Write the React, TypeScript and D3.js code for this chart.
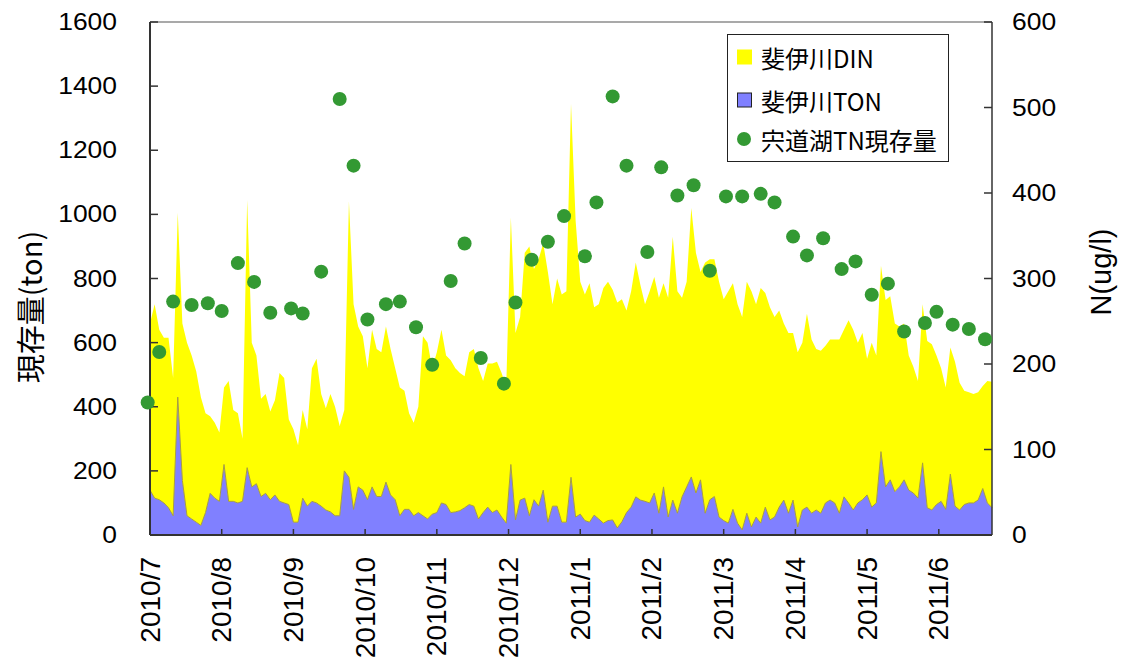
import React, { useEffect, useRef } from "react";
import * as d3 from "d3";

// daily record sampled every 2 days from 2010/7/1
const START = new Date(2010, 6, 1);
const END = new Date(2011, 5, 30);
const STEP_DAYS = 2;

// 斐伊川TON (ton)
const tonValues = [
  140, 115, 110, 100, 85, 60, 430, 170, 60, 50, 40, 30, 70, 130, 115, 105, 220, 105, 105, 100,
  105, 210, 150, 160, 120, 130, 110, 125, 105, 100, 95, 40, 40, 115, 90, 105, 100, 90, 78, 72,
  60, 60, 200, 180, 80, 150, 140, 110, 150, 120, 120, 165, 125, 110, 60, 80, 80, 60, 70, 60,
  50, 65, 70, 100, 95, 70, 72, 76, 85, 95, 90, 50, 70, 87, 70, 78, 56, 37, 220, 47,
  109, 115, 60, 110, 90, 140, 40, 90, 90, 40, 40, 180, 56, 65, 45, 40, 62, 50, 37, 45,
  47, 22, 41, 70, 87, 119, 109, 105, 100, 131, 68, 150, 56, 109, 68, 119, 150, 181, 131, 172,
  68, 110, 120, 56, 45, 37, 80, 37, 16, 68, 25, 56, 37, 87, 47, 56, 87, 109, 68, 109,
  25, 78, 87, 68, 78, 68, 100, 109, 100, 68, 119, 100, 78, 100, 110, 125, 87, 100, 260, 150,
  172, 135, 150, 172, 140, 131, 115, 225, 85, 78, 95, 105, 80, 190, 90, 78, 95, 100, 100, 109,
  145, 100, 85,
];

// 斐伊川DIN (ton)
const dinValues = [
  520, 605, 530, 515, 530, 430, 575, 490, 540, 510, 470, 400, 310, 240, 235, 215, 240, 375, 285, 280,
  195, 835, 450, 400, 305, 310, 275, 295, 400, 390, 265, 290, 240, 275, 240, 415, 450, 350, 317, 368,
  340, 280, 190, 860, 640, 500, 480, 410, 490, 460, 450, 485, 455, 410, 400, 370, 300, 290, 330, 560,
  550, 455, 500, 540, 465, 475, 448, 429, 410, 475, 490, 470, 410, 448, 465, 462, 449, 425, 770, 583,
  571, 765, 840, 720, 770, 770, 780, 630, 710, 710, 720, 1165, 924, 725, 705, 745, 648, 670, 733, 745,
  718, 703, 694, 630, 673, 731, 671, 615, 660, 674, 672, 635, 684, 821, 692, 621, 640, 839, 749, 648,
  782, 750, 740, 734, 690, 723, 705, 683, 664, 722, 735, 664, 733, 668, 663, 624, 613, 551, 562, 521,
  545, 522, 603, 542, 502, 507, 490, 501, 510, 542, 521, 570, 562, 500, 520, 425, 513, 460, 580, 583,
  573, 525, 500, 488, 420, 394, 365, 495, 520, 517, 465, 415, 380, 395, 450, 397, 355, 345, 340, 336,
  320, 380, 393,
];

// 宍道湖TN現存量 (ug/l)
const tnDates = [
  "2010-06-30", "2010-07-05", "2010-07-11", "2010-07-19", "2010-07-26", "2010-08-01", "2010-08-08",
  "2010-08-15", "2010-08-22", "2010-08-31", "2010-09-05", "2010-09-13", "2010-09-21", "2010-09-27",
  "2010-10-03", "2010-10-11", "2010-10-17", "2010-10-24", "2010-10-31", "2010-11-08", "2010-11-14",
  "2010-11-21", "2010-12-01", "2010-12-06", "2010-12-13", "2010-12-20", "2010-12-27", "2011-01-05",
  "2011-01-10", "2011-01-17", "2011-01-23", "2011-02-01", "2011-02-07", "2011-02-14", "2011-02-21",
  "2011-02-28", "2011-03-07", "2011-03-14", "2011-03-22", "2011-03-28", "2011-04-05", "2011-04-11",
  "2011-04-18", "2011-04-26", "2011-05-02", "2011-05-09", "2011-05-16", "2011-05-23", "2011-06-01",
  "2011-06-06", "2011-06-13", "2011-06-20", "2011-06-27",
];
const tnValues = [
  155, 214, 273, 269, 271, 262, 318, 296, 260, 265, 259, 308, 510, 432, 252, 270, 273, 243, 199,
  297, 341, 207, 177, 272, 322, 343, 373, 326, 389, 513, 432, 331, 430, 397, 409, 309, 396, 396,
  399, 389, 349, 327, 347, 311, 320, 281, 294, 238, 248, 261, 246, 241, 229,
];

const leftTicks = [0, 200, 400, 600, 800, 1000, 1200, 1400, 1600];
const rightTicks = [0, 100, 200, 300, 400, 500, 600];
const legendLabels = ["斐伊川DIN", "斐伊川TON", "宍道湖TN現存量"];

const YELLOW = "#ffff00";
const BLUE = "#8080ff";
const GREEN = "#339933";
const NUM_FONT = "'Liberation Sans', Arial, sans-serif";
const JP_FONT = "'Noto Sans CJK JP', sans-serif";

export default function App() {
  const ref = useRef<SVGSVGElement>(null);

  useEffect(() => {
    const svg = d3.select(ref.current);
    svg.selectAll("*").remove();

    const left = 150, right = 992, top = 22, bottom = 535;
    const x = d3.scaleTime().domain([START, END]).range([left, right]);
    const yL = d3.scaleLinear().domain([0, 1600]).range([bottom, top]);
    const yR = d3.scaleLinear().domain([0, 600]).range([bottom, top]);

    const rows = tonValues.map((ton, i) => ({
      date: d3.timeDay.offset(START, i * STEP_DAYS),
      ton,
      din: dinValues[i],
    }));
    const series = d3.stack<any>().keys(["ton", "din"])(rows);
    const area = d3
      .area<any>()
      .x((d) => x(d.data.date))
      .y0((d) => yL(d[0]))
      .y1((d) => yL(d[1]));

    svg.append("path").datum(series[1]).attr("d", area).attr("fill", YELLOW);
    svg.append("path").datum(series[0]).attr("d", area).attr("fill", BLUE);
    svg
      .append("path")
      .datum(series[0])
      .attr("d", d3.line<any>().x((d) => x(d.data.date)).y((d) => yL(d[1])))
      .attr("fill", "none")
      .attr("stroke", "#a89f3a")
      .attr("stroke-width", 1);

    // frame
    svg.append("line").attr("x1", left).attr("x2", right).attr("y1", top).attr("y2", top)
      .attr("stroke", "#8c8c8c").attr("stroke-width", 1.5);
    svg.append("line").attr("x1", right).attr("x2", right).attr("y1", top).attr("y2", bottom)
      .attr("stroke", "#333").attr("stroke-width", 1.5);
    svg.append("line").attr("x1", left).attr("x2", left).attr("y1", top).attr("y2", bottom)
      .attr("stroke", "#333").attr("stroke-width", 2);
    svg.append("line").attr("x1", left).attr("x2", right).attr("y1", bottom).attr("y2", bottom)
      .attr("stroke", "#333").attr("stroke-width", 2);

    // left axis
    const gl = svg.append("g");
    gl.selectAll("line").data(leftTicks).enter().append("line")
      .attr("x1", left).attr("x2", left + 8)
      .attr("y1", (d) => yL(d)).attr("y2", (d) => yL(d))
      .attr("stroke", "#333").attr("stroke-width", 1.5);
    gl.selectAll("text").data(leftTicks).enter().append("text")
      .attr("x", 117).attr("y", (d) => yL(d))
      .attr("text-anchor", "end").attr("dominant-baseline", "central")
      .attr("font-family", NUM_FONT).attr("font-size", 23)
      .attr("textLength", (d) => String(d).length * 14.7)
      .attr("lengthAdjust", "spacingAndGlyphs")
      .text((d) => d);

    // right axis
    const gr = svg.append("g");
    gr.selectAll("line").data(rightTicks).enter().append("line")
      .attr("x1", right - 8).attr("x2", right)
      .attr("y1", (d) => yR(d)).attr("y2", (d) => yR(d))
      .attr("stroke", "#333").attr("stroke-width", 1.5);
    gr.selectAll("text").data(rightTicks).enter().append("text")
      .attr("x", 1012).attr("y", (d) => yR(d))
      .attr("text-anchor", "start").attr("dominant-baseline", "central")
      .attr("font-family", NUM_FONT).attr("font-size", 23)
      .attr("textLength", (d) => String(d).length * 14.7)
      .attr("lengthAdjust", "spacingAndGlyphs")
      .text((d) => d);

    // bottom axis: a tick every 31 days
    const xTicks = d3.range(12).map((k) => d3.timeDay.offset(START, 31 * k));
    const fmt = d3.timeFormat("%Y/%-m");
    const gb = svg.append("g");
    gb.selectAll("line").data(xTicks).enter().append("line")
      .attr("x1", (d) => x(d)).attr("x2", (d) => x(d))
      .attr("y1", bottom - 6).attr("y2", bottom)
      .attr("stroke", "#333").attr("stroke-width", 1.5);
    gb.selectAll("text").data(xTicks).enter().append("text")
      .attr("transform", (d) => `translate(${x(d)},557) rotate(-90)`)
      .attr("text-anchor", "end").attr("dominant-baseline", "central")
      .attr("font-family", NUM_FONT).attr("font-size", 28)
      .text((d) => fmt(d));

    // axis titles
    svg.append("text")
      .attr("transform", "translate(29,307) rotate(-90)")
      .attr("text-anchor", "middle").attr("dominant-baseline", "central")
      .attr("font-family", JP_FONT).attr("font-size", 29)
      .text("現存量(ton)");
    svg.append("text")
      .attr("transform", "translate(1101,272) rotate(-90)")
      .attr("text-anchor", "middle").attr("dominant-baseline", "central")
      .attr("font-family", NUM_FONT).attr("font-size", 29)
      .text("N(ug/l)");

    // TN points
    const parse = d3.timeParse("%Y-%m-%d");
    svg.append("g").selectAll("circle").data(tnValues).enter().append("circle")
      .attr("cx", (d, i) => x(parse(tnDates[i]) as Date))
      .attr("cy", (d) => yR(d))
      .attr("r", 7)
      .attr("fill", GREEN);

    // legend
    const lg = svg.append("g");
    lg.append("rect").attr("x", 727.5).attr("y", 34.5).attr("width", 221).attr("height", 127)
      .attr("fill", "#fff").attr("stroke", "#222").attr("stroke-width", 1);
    const rowY = [57, 100, 139];
    lg.append("rect").attr("x", 737).attr("y", rowY[0] - 7.5).attr("width", 15).attr("height", 15)
      .attr("fill", YELLOW);
    lg.append("rect").attr("x", 737.5).attr("y", rowY[1] - 7).attr("width", 14).attr("height", 14)
      .attr("fill", BLUE).attr("stroke", "#222").attr("stroke-width", 1);
    lg.append("circle").attr("cx", 744).attr("cy", rowY[2]).attr("r", 7).attr("fill", GREEN);
    lg.selectAll("text").data(legendLabels).enter().append("text")
      .attr("x", 761).attr("y", (d, i) => rowY[i])
      .attr("dominant-baseline", "central")
      .attr("font-family", JP_FONT).attr("font-size", 24)
      .text((d) => d);
  }, []);

  return (
    <div style={{ position: "absolute", left: 0, top: 0 }}>
      <svg ref={ref} width={1127} height={666} style={{ display: "block", background: "#fff" }} />
    </div>
  );
}
